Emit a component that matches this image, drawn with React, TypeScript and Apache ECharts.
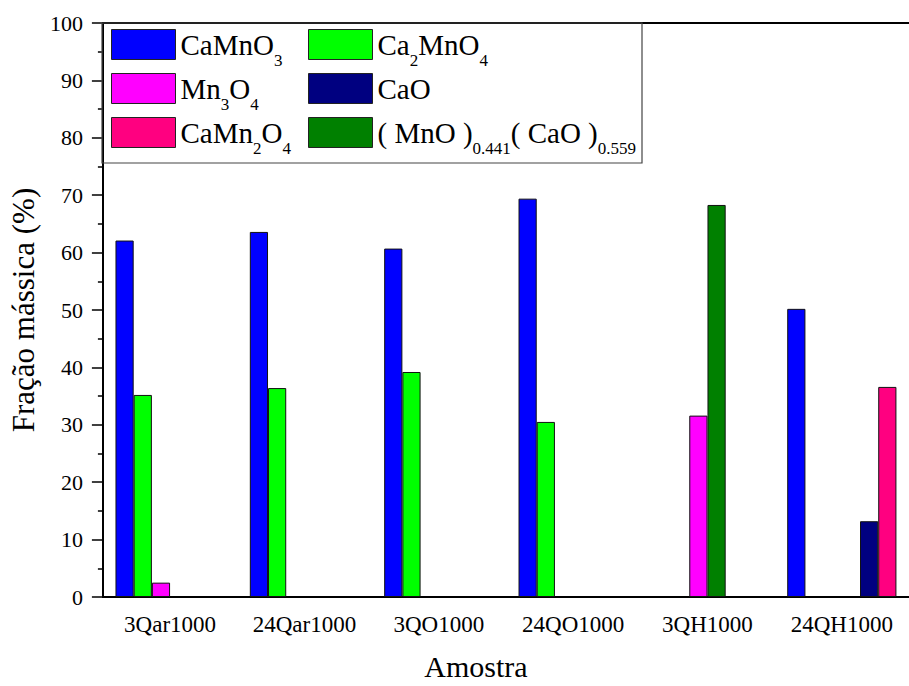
import React, { useEffect, useRef } from "react";
import * as echarts from "echarts";

const categories = ["3Qar1000", "24Qar1000", "3QO1000", "24QO1000", "3QH1000", "24QH1000"];
const seriesNames = ["CaMnO3", "Ca2MnO4", "Mn3O4", "(MnO)0.441(CaO)0.559", "CaO", "CaMn2O4"];
const caMnO3 = [62.1, 63.6, 60.7, 69.4, null, 50.2];
const ca2MnO4 = [35.2, 36.4, 39.2, 30.5, null, null];
const mn3O4 = [2.5, null, null, null, 31.6, null];
const mnOCaO = [null, null, null, null, 68.3, null];
const caO = [null, null, null, null, null, 13.2];
const caMn2O4 = [null, null, null, null, null, 36.6];
const seriesValues = [caMnO3, ca2MnO4, mn3O4, mnOCaO, caO, caMn2O4];
const seriesColors = ["#0000FF", "#00FF00", "#FF00FF", "#008000", "#000080", "#FF0080"];
const legendLabels: Record<string, string> = {
  "CaMnO3": "{n|CaMnO}{s|3}",
  "Ca2MnO4": "{n|Ca}{s|2}{n|MnO}{s|4}",
  "Mn3O4": "{n|Mn}{s|3}{n|O}{s|4}",
  "CaO": "{n|CaO}",
  "CaMn2O4": "{n|CaMn}{s|2}{n|O}{s|4}",
  "(MnO)0.441(CaO)0.559": "{n|( MnO )}{s|0.441}{n|( CaO )}{s|0.559}",
};
const legendCol1 = ["CaMnO3", "Mn3O4", "CaMn2O4"];
const legendCol2 = ["Ca2MnO4", "CaO", "(MnO)0.441(CaO)0.559"];

const FONT = "Liberation Serif";

const rich = {
  n: { fontSize: 29, fontFamily: FONT, color: "#000", lineHeight: 28, padding: [10, 0, 10, 0] },
  s: { fontSize: 17, fontFamily: FONT, color: "#000", lineHeight: 17, padding: [31, 0, 0, 0] },
};

export default function App() {
  const ref = useRef<HTMLDivElement>(null);
  useEffect(() => {
    if (!ref.current) return;
    const chart = echarts.init(ref.current, null, { renderer: "svg" });
    const legendCommon = {
      orient: "vertical",
      padding: 0,
      itemWidth: 64,
      itemHeight: 30,
      itemGap: -5,
      icon: "rect",
      itemStyle: { borderColor: "#222", borderWidth: 1 },
      formatter: (name: string) => legendLabels[name],
      textStyle: { fontFamily: FONT, fontSize: 29, color: "#000", rich },
      selectedMode: false,
    };
    chart.setOption({
      animation: false,
      backgroundColor: "#fff",
      textStyle: { fontFamily: FONT },
      grid: { left: 102, top: 23, bottom: 83, right: -10, containLabel: false },
      legend: [
        { ...legendCommon, data: legendCol1, left: 111, top: 20 },
        { ...legendCommon, data: legendCol2, left: 308, top: 20 },
      ],
      graphic: [
        {
          type: "rect",
          shape: { x: 102, y: 23, width: 540, height: 140 },
          style: { fill: "none", stroke: "#444", lineWidth: 1.2 },
          z: 10,
        },
      ],
      xAxis: [
        {
          type: "category",
          data: categories,
          position: "bottom",
          axisLine: { lineStyle: { color: "#000", width: 2 } },
          axisTick: { interval: 0, alignWithLabel: true, length: 11, lineStyle: { color: "#000", width: 1.5 } },
          axisLabel: { interval: 0, hideOverlap: false, color: "#000", fontFamily: FONT, fontSize: 23, margin: 16 },
          name: "Amostra",
          nameLocation: "middle",
          nameGap: 54,
          nameTextStyle: { color: "#000", fontFamily: FONT, fontSize: 30, padding: [0, 60, 0, 0] },
        },
        {
          type: "category",
          data: categories,
          position: "bottom",
          axisLine: { show: false },
          axisTick: { interval: 0, length: 6, lineStyle: { color: "#000", width: 1.5 } },
          axisLabel: { show: false },
        },
        {
          type: "category",
          data: categories,
          position: "top",
          axisLine: { lineStyle: { color: "#000", width: 2 } },
          axisTick: { interval: 0, inside: true, length: 2, lineStyle: { color: "#000", width: 1 } },
          axisLabel: { show: false },
        },
      ],
      yAxis: {
        type: "value",
        min: 0,
        max: 100,
        interval: 10,
        axisLine: { show: true, lineStyle: { color: "#000", width: 2 } },
        axisTick: { show: true, length: 11, lineStyle: { color: "#000", width: 1.5 } },
        minorTick: { show: true, splitNumber: 2, length: 5, lineStyle: { color: "#000", width: 1.5 } },
        splitLine: { show: false },
        axisLabel: { color: "#000", fontFamily: FONT, fontSize: 22, margin: 20 },
        name: "Fração mássica (%)",
        nameLocation: "middle",
        nameGap: 61,
        nameTextStyle: { color: "#000", fontFamily: FONT, fontSize: 31 },
      },
      series: seriesNames.map((name, i) => ({
        type: "bar",
        name,
        xAxisIndex: 0,
        data: seriesValues[i],
        barWidth: 18.2,
        barGap: "0%",
        itemStyle: { color: seriesColors[i], borderColor: "#111", borderWidth: 1 },
      })),
    });
    return () => chart.dispose();
  }, []);
  return (
    <div
      ref={ref}
      style={{ position: "fixed", left: 0, top: 0, width: 909, height: 686, background: "#fff" }}
    />
  );
}
